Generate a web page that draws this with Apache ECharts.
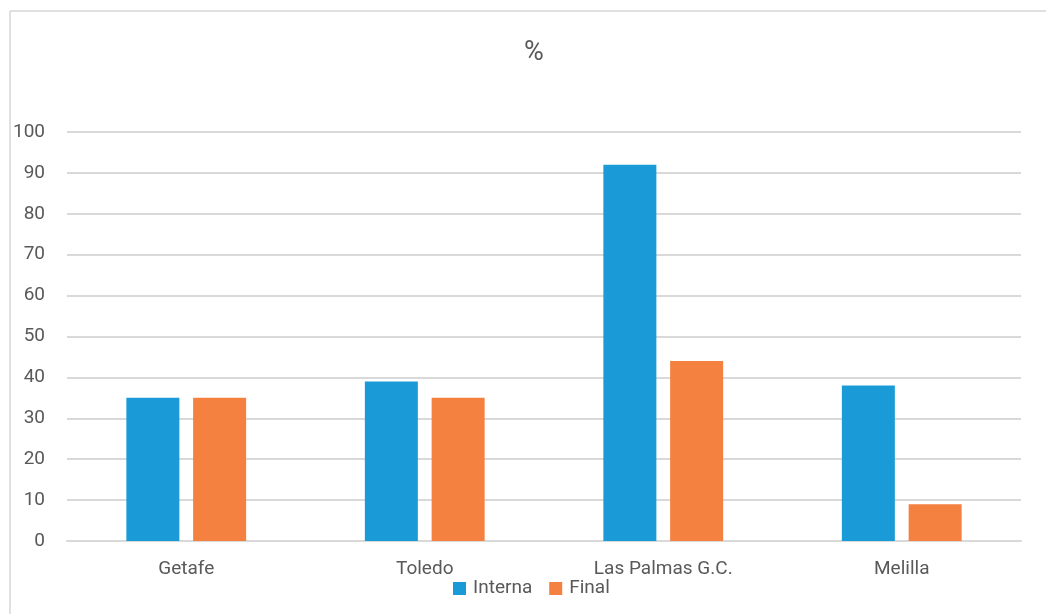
<!DOCTYPE html>
<html>
<head>
<meta charset="utf-8">
<style>
  html, body { margin: 0; padding: 0; background: #ffffff; }
  #chart { width: 1046px; height: 614px; }
</style>
<script src="https://cdn.jsdelivr.net/npm/echarts@6/dist/echarts.min.js"></script>
</head>
<body>
<div id="chart"></div>
<script>
// Categories and series values
const categories = ['Getafe', 'Toledo', 'Las Palmas G.C.', 'Melilla'];
const interna = [35, 39, 92, 38];
const finalVals = [35, 35, 44, 9];
const seriesNames = ['Interna', 'Final'];

const chart = echarts.init(document.getElementById('chart'), null, { renderer: 'canvas' });

const textColor = '#595959';
const gridColor = '#d9d9d9';
const fontFamily = 'Roboto, "Noto Sans", sans-serif';

chart.setOption({
  backgroundColor: '#ffffff',
  animation: false,
  title: {
    text: '%',
    left: 519,
    top: 35,
    textStyle: { fontFamily, fontSize: 27, fontWeight: 'normal', color: textColor }
  },
  graphic: [
    { type: 'line', shape: { x1: 10, y1: 11, x2: 1046, y2: 11 }, style: { stroke: '#d6d6d6', lineWidth: 1.5 } },
    { type: 'line', shape: { x1: 10, y1: 11, x2: 10, y2: 614 }, style: { stroke: '#d6d6d6', lineWidth: 1.5 } }
  ],
  legend: {
    data: seriesNames,
    left: 453,
    top: 579,
    padding: 0,
    itemWidth: 13,
    itemHeight: 13,
    itemGap: 17,
    icon: 'rect',
    textStyle: { fontFamily, fontSize: 19, color: textColor, padding: [0, 0, 0, 2] }
  },
  grid: { left: 67, right: 25, top: 132, bottom: 73, containLabel: false },
  xAxis: {
    type: 'category',
    data: categories,
    axisLine: { show: true, lineStyle: { color: gridColor, width: 2 } },
    axisTick: { show: false },
    axisLabel: { fontFamily, fontSize: 19, color: textColor, margin: 19 }
  },
  yAxis: {
    type: 'value',
    min: 0,
    max: 100,
    interval: 10,
    axisLine: { show: false },
    axisTick: { show: false },
    axisLabel: { fontFamily, fontSize: 19, color: textColor, margin: 22 },
    splitLine: { lineStyle: { color: gridColor, width: 2 } }
  },
  series: [
    {
      name: seriesNames[0],
      type: 'bar',
      data: interna,
      barWidth: 53,
      barGap: '26%',
      itemStyle: { color: '#1a9bd7' }
    },
    {
      name: seriesNames[1],
      type: 'bar',
      data: finalVals,
      barWidth: 53,
      barGap: '26%',
      itemStyle: { color: '#f4813f' }
    }
  ]
});
</script>
</body>
</html>
